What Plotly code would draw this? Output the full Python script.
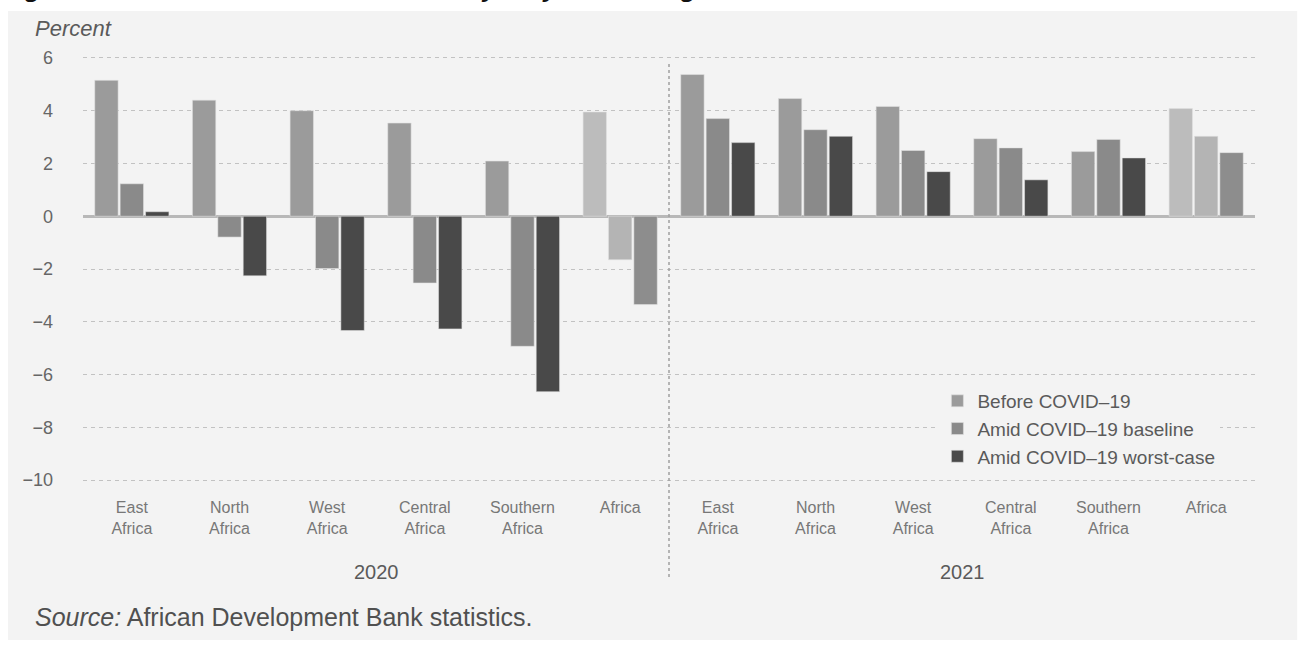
import plotly.graph_objects as go

# --- data -------------------------------------------------------------
years = ["2020", "2021"]
regions = ["East<br>Africa", "North<br>Africa", "West<br>Africa",
           "Central<br>Africa", "Southern<br>Africa", "Africa"]

before_2020 = [5.15, 4.40, 4.00, 3.53, 2.09, 3.95]
baseline_2020 = [1.23, -0.79, -1.98, -2.53, -4.93, -1.65]
worst_2020 = [0.17, -2.26, -4.33, -4.27, -6.65, -3.35]

before_2021 = [5.37, 4.46, 4.16, 2.94, 2.45, 4.08]
baseline_2021 = [3.70, 3.28, 2.49, 2.59, 2.91, 3.03]
worst_2021 = [2.79, 3.03, 1.69, 1.38, 2.21, 2.41]

y_ticks = [-10, -8, -6, -4, -2, 0, 2, 4, 6]

# --- styling ------------------------------------------------------------
PANEL = "#f3f3f3"
TEXT = "#5a5a5a"
FONT = "Liberation Sans, Arial, Helvetica, sans-serif"

n = len(regions)
x_pos = list(range(n * len(years)))
tick_text = regions * len(years)

# regional bars vs. the continental aggregate (lighter tones)
series = [
    ("Before COVID\u201319", before_2020 + before_2021, "#9b9b9b", "#bcbcbc"),
    ("Amid COVID\u201319 baseline", baseline_2020 + baseline_2021, "#8a8a8a", "#b4b4b4"),
    ("Amid COVID\u201319 worst-case", worst_2020 + worst_2021, "#494949", "#8d8d8d"),
]

fig = go.Figure()
for name, vals, col, agg_col in series:
    colors = [agg_col if (i % n) == n - 1 else col for i in range(len(vals))]
    fig.add_trace(go.Bar(
        x=x_pos, y=vals, name=name,
        marker=dict(color=colors, line=dict(color="rgba(225,225,225,0.55)", width=1)),
        hoverinfo="y+name",
    ))

# year labels under each block of regions
for k, yr in enumerate(years):
    fig.add_annotation(x=k * n + (n - 1) / 2, y=-0.192, xref="x", yref="paper",
                       text=yr, showarrow=False, xanchor="center", yanchor="middle",
                       font=dict(size=20, color=TEXT, family=FONT))

shapes = [
    # light panel behind the whole figure
    dict(type="rect", xref="paper", yref="paper", x0=-0.064, x1=1.036, y0=-0.347, y1=1.089,
         fillcolor=PANEL, line=dict(width=0), layer="below"),
]
# dotted separator between the two years
for k in range(1, len(years)):
    shapes.append(dict(type="line", xref="x", yref="paper", x0=k * n - 0.5, x1=k * n - 0.5,
                       y0=-0.203, y1=0.97, line=dict(color="#a0a0a0", width=1.5, dash="dot")))

fig.update_layout(
    width=1306, height=646,
    margin=dict(l=83, r=51, t=50, b=158),
    paper_bgcolor="white",
    plot_bgcolor="rgba(0,0,0,0)",
    barmode="group", bargap=0.22, bargroupgap=0.08,
    font=dict(family=FONT, color=TEXT),
    shapes=shapes,
    showlegend=True,
    legend=dict(x=0.729, y=0.242, xanchor="left", yanchor="top",
                bgcolor=PANEL, font=dict(size=19, color=TEXT, family=FONT),
                tracegroupgap=0, itemclick=False),
    xaxis=dict(range=[-0.5, len(x_pos) - 0.5], tickvals=x_pos, ticktext=tick_text,
               showgrid=False, zeroline=False, showline=False, ticks="",
               tickfont=dict(size=16, color="#777777", family=FONT),
               ticklabelstandoff=8),
    yaxis=dict(range=[-10.3, 6.3], tickvals=y_ticks, showgrid=True,
               gridcolor="#c2c2c2", griddash="4px,4px", gridwidth=1.2,
               zeroline=True, zerolinecolor="#b8b8b8", zerolinewidth=2.5,
               showline=False, ticks="", ticklabelstandoff=29,
               tickfont=dict(size=18, color="#666666", family=FONT)),
)

fig.add_annotation(x=-0.0427, y=1.050, xref="paper", yref="paper", text="<i>Percent</i>",
                   showarrow=False, xanchor="left", yanchor="middle",
                   font=dict(size=22, color=TEXT, family=FONT))
fig.add_annotation(x=-0.0427, y=-0.2945, xref="paper", yref="paper",
                   text="<i>Source:</i> African Development Bank statistics.",
                   showarrow=False, xanchor="left", yanchor="middle",
                   font=dict(size=25, color="#505050", family=FONT))
fig.add_annotation(x=-0.071, y=1.1027, xref="paper", yref="paper",
                   text="<b><i>Figure 1: Growth\u2019s decline and recovery vary across regions</i></b>",
                   showarrow=False, xanchor="left", yanchor="bottom",
                   font=dict(size=26, color="#111111", family=FONT))

fig.write_html("out.html")
